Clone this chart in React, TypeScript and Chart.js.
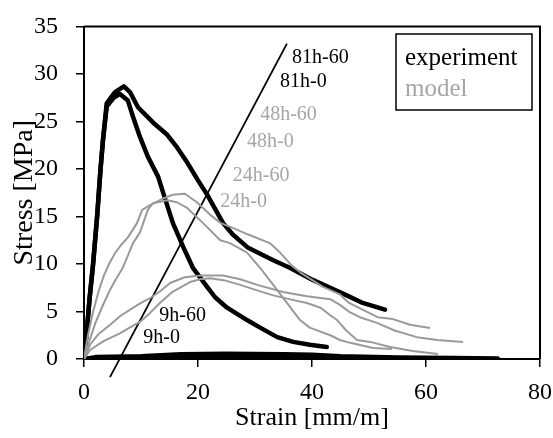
import { useEffect, useRef } from "react";
import { Chart, registerables } from "chart.js";

Chart.register(...registerables);

// ---- data (strain [mm/m], stress [MPa]) ----
const exp81h60: [number, number][] = [
  [0, 0], [0.5, 3], [1.0, 6.5], [1.58, 9.9], [2.3, 15], [2.9, 20], [3.33, 23.05], [3.98, 26.9],
  [5.44, 28.1], [7.0, 28.7], [8.07, 28.1], [9.47, 26.5], [12.1, 24.9], [14.6, 23.6], [16.3, 22.3],
  [18.2, 20.6], [20, 18.8], [21.6, 17.3], [24.4, 14.3], [26.1, 13.1], [28.8, 11.7], [33.2, 10.4],
  [36.1, 9.6], [40.2, 8.3], [46.1, 6.7], [48.9, 5.9], [52.8, 5.2],
];
const exp81h0: [number, number][] = [
  [0, 0], [0.5, 3], [1.0, 6.5], [1.58, 9.9], [2.3, 15], [2.9, 20], [3.33, 23.05], [4.0, 26.6],
  [5.2, 27.5], [6.3, 27.9], [7.7, 27.2], [8.6, 25.5], [9.8, 23.4], [11.2, 21.3], [13.0, 19.2],
  [14.2, 16.9], [15.6, 14.3], [17.4, 11.8], [19.1, 9.6], [21.6, 7.6], [23.0, 6.5], [25.1, 5.4],
  [28.6, 4.1], [30.9, 3.3], [33.9, 2.3], [36.7, 1.8], [39.6, 1.5], [42.6, 1.26],
];
const exp9h60: [number, number][] = [
  [0, 0], [2, 0.2], [10, 0.3], [17, 0.5], [25, 0.55], [35, 0.5], [40, 0.45], [45, 0.3],
  [55, 0.15], [65, 0.1], [72.6, 0.05],
];
const exp9h0: [number, number][] = [
  [0, 0], [5, 0.15], [15, 0.25], [25, 0.3], [35, 0.25], [45, 0.1], [57, 0.05],
];
const model24h60: [number, number][] = [
  [0, 0], [0.7, 2.5], [1.6, 5], [2.6, 7.2], [3.5, 8.8], [4.4, 10], [5.5, 11.2], [6.5, 12],
  [7.7, 12.8], [9.3, 14.3], [10.2, 15.7], [11.6, 16.2], [13.9, 16.9], [15.6, 17.3], [17.7, 17.4],
  [19.8, 16.5], [22.1, 15.2], [24, 14.3], [26.1, 13.8], [28.8, 13.1], [32.6, 12.2], [34.4, 11.2],
  [36.5, 9.8], [38, 9.1], [41.9, 7.6], [44.9, 6.8], [46.5, 5.9], [51.5, 4.4], [54.2, 4.2],
  [57.2, 3.6], [60.7, 3.26],
];
const model24h0: [number, number][] = [
  [0, 0], [1, 2], [2, 3.8], [3.2, 5.5], [4.5, 7.2], [5.6, 8.4], [6.8, 9.6], [8.6, 12.2],
  [9.8, 13.3], [11.2, 15.7], [12.1, 16.4], [14.6, 16.7], [16.3, 16.5], [18.1, 15.9], [20.9, 14.3],
  [23.9, 12.5], [25.6, 12.2], [28.6, 11.2], [30.9, 9.6], [33.2, 7.8], [35.6, 5.9], [37.9, 4.1],
  [39.6, 3.3], [43.2, 2.5], [44.9, 2.0], [46.7, 1.7], [50.7, 1.16], [54, 1.05],
];
const model9h60: [number, number][] = [
  [0, 0], [1.05, 1.5], [2.5, 2.6], [4.6, 3.6], [6.3, 4.5], [8.1, 5.2], [10, 5.9], [11.6, 6.4],
  [13.3, 7.1], [15.1, 8.0], [17.7, 8.6], [20.4, 8.8], [24.4, 8.8], [27.4, 8.4], [30.4, 7.8],
  [34.9, 7.05], [39.1, 6.6], [43.2, 6.3], [44.9, 5.7], [46.7, 4.9], [48.4, 4.4], [51.4, 3.8],
  [54.5, 3.0], [58.4, 2.3], [62, 2.0], [66.5, 1.8],
];
const model9h0: [number, number][] = [
  [0, 0], [1.05, 0.95], [3.5, 1.9], [6.3, 2.7], [8, 3.3], [9.8, 3.9], [11.5, 4.8], [13.3, 5.9],
  [15.6, 7.1], [18.6, 8.1], [20.4, 8.4], [22.1, 8.5], [24.5, 8.3], [27.4, 7.8], [30.5, 7.2],
  [33.2, 6.7], [36, 6.3], [39.1, 5.9], [41.5, 5.4], [43.2, 4.6], [44.4, 4.1], [46, 3.0],
  [47.9, 2.0], [50.2, 1.8], [53.7, 1.26], [57.7, 0.84], [62.1, 0.53],
];
const ageLine: [number, number][] = [[4.56, -1.9], [35.6, 33.2]];

const xTickValues = [0, 20, 40, 60, 80];
const yTickValues = [0, 5, 10, 15, 20, 25, 30, 35];

const expLabels: { text: string; x: number; y: number }[] = [
  { text: "81h-60", x: 36.5, y: 31.7 },
  { text: "81h-0", x: 34.4, y: 29.2 },
  { text: "9h-60", x: 13.2, y: 4.6 },
  { text: "9h-0", x: 10.4, y: 2.2 },
];
const modelLabels: { text: string; x: number; y: number }[] = [
  { text: "48h-60", x: 30.9, y: 25.7 },
  { text: "48h-0", x: 28.6, y: 22.9 },
  { text: "24h-60", x: 26.1, y: 19.3 },
  { text: "24h-0", x: 23.9, y: 16.6 },
];
const legendNames = ["experiment", "model"];

const SERIF = "'Liberation Serif', 'Times New Roman', serif";
const BLACK = "#000000";
const GRAY = "#a6a6a6";
const MODEL_LINE = "#9a9a9a";

const toXY = (arr: [number, number][]) => arr.map(([x, y]) => ({ x, y }));

const overlayPlugin = {
  id: "overlay",
  afterDatasetsDraw(chart: any) {
    const { ctx, chartArea, scales } = chart;
    const xs = scales.x;
    const ys = scales.y;
    ctx.save();
    // frame (top and right sides)
    ctx.strokeStyle = BLACK;
    ctx.lineWidth = 2;
    ctx.beginPath();
    ctx.moveTo(chartArea.left, chartArea.top);
    ctx.lineTo(chartArea.right, chartArea.top);
    ctx.lineTo(chartArea.right, chartArea.bottom);
    ctx.stroke();

    // curve labels
    ctx.font = `20px ${SERIF}`;
    ctx.textAlign = "left";
    ctx.textBaseline = "middle";
    ctx.fillStyle = BLACK;
    expLabels.forEach((l) => ctx.fillText(l.text, xs.getPixelForValue(l.x), ys.getPixelForValue(l.y)));
    ctx.fillStyle = GRAY;
    modelLabels.forEach((l) => ctx.fillText(l.text, xs.getPixelForValue(l.x), ys.getPixelForValue(l.y)));

    // legend box
    const bx = chartArea.right - 144;
    const by = chartArea.top + 7.5;
    const bw = 136;
    const bh = 76;
    ctx.fillStyle = "#ffffff";
    ctx.fillRect(bx, by, bw, bh);
    ctx.strokeStyle = BLACK;
    ctx.lineWidth = 1.5;
    ctx.strokeRect(bx, by, bw, bh);
    ctx.font = `25px ${SERIF}`;
    ctx.fillStyle = BLACK;
    ctx.fillText(legendNames[0], bx + 9, by + 24);
    ctx.fillStyle = GRAY;
    ctx.fillText(legendNames[1], bx + 9, by + 55);
    ctx.restore();
  },
};

export default function App() {
  const canvasRef = useRef<HTMLCanvasElement | null>(null);

  useEffect(() => {
    if (!canvasRef.current) return;
    const expStyle = { borderColor: BLACK, borderWidth: 4.5, pointRadius: 0, tension: 0, borderJoinStyle: "round" as const, borderCapStyle: "round" as const };
    const modelStyle = { borderColor: MODEL_LINE, borderWidth: 2, pointRadius: 0, tension: 0, borderJoinStyle: "round" as const };
    const chart = new Chart(canvasRef.current, {
      type: "line",
      data: {
        datasets: [
          { label: "model 24h-60", data: toXY(model24h60), ...modelStyle },
          { label: "model 24h-0", data: toXY(model24h0), ...modelStyle },
          { label: "model 9h-60", data: toXY(model9h60), ...modelStyle },
          { label: "model 9h-0", data: toXY(model9h0), ...modelStyle },
          { label: "exp 81h-60", data: toXY(exp81h60), ...expStyle },
          { label: "exp 81h-0", data: toXY(exp81h0), ...expStyle },
          { label: "exp 9h-60", data: toXY(exp9h60), ...expStyle },
          { label: "exp 9h-0", data: toXY(exp9h0), ...expStyle },
          { label: "age", data: toXY(ageLine), borderColor: BLACK, borderWidth: 1.8, pointRadius: 0, clip: false as any },
        ],
      },
      options: {
        animation: false,
        responsive: false,
        maintainAspectRatio: false,
        layout: { padding: { top: 26.5, right: 13, bottom: 0, left: 0 } },
        plugins: { legend: { display: false }, tooltip: { enabled: false } },
        scales: {
          x: {
            type: "linear",
            min: 0,
            max: 80,
            afterBuildTicks: (s: any) => { s.ticks = xTickValues.map((v) => ({ value: v })); },
            afterFit: (s: any) => { s.height = 79; s.paddingLeft = 0; s.paddingRight = 0; },
            ticks: { color: BLACK, font: { family: SERIF, size: 24 }, padding: 11, maxRotation: 0 },
            grid: { display: true, drawOnChartArea: false, drawTicks: true, tickLength: 8, color: BLACK, lineWidth: 1.5 },
            border: { display: true, color: BLACK, width: 2 },
            title: { display: true, text: "Strain [mm/m]", color: BLACK, font: { family: SERIF, size: 26 }, padding: { top: 0, bottom: 4 } },
          },
          y: {
            type: "linear",
            min: 0,
            max: 35,
            afterBuildTicks: (s: any) => { s.ticks = yTickValues.map((v) => ({ value: v })); },
            afterFit: (s: any) => { s.width = 84; s.paddingTop = 0; s.paddingBottom = 0; },
            ticks: { color: BLACK, font: { family: SERIF, size: 24 }, padding: 18 },
            grid: { display: true, drawOnChartArea: false, drawTicks: true, tickLength: 8, color: BLACK, lineWidth: 1.5 },
            border: { display: true, color: BLACK, width: 2 },
            title: { display: true, text: "Stress [MPa]", color: BLACK, font: { family: SERIF, size: 28 }, padding: { top: 8, bottom: 0 } },
          },
        },
      },
      plugins: [overlayPlugin],
    });
    return () => chart.destroy();
  }, []);

  return (
    <div style={{ position: "fixed", left: 0, top: 0, width: 553, height: 438, background: "#fff" }}>
      <canvas ref={canvasRef} width={553} height={438} style={{ width: 553, height: 438, display: "block" }} />
    </div>
  );
}
